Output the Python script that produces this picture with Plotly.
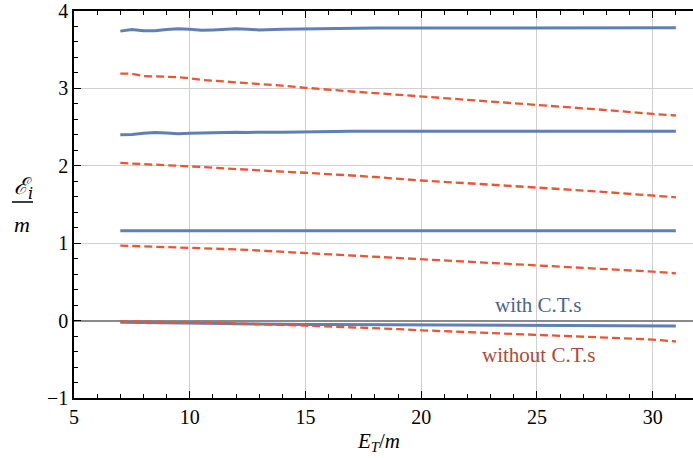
import plotly.graph_objects as go

x = [7, 7.5, 8, 8.5, 9, 9.5, 10, 10.5, 11, 11.5, 12, 12.5, 13, 14, 15, 16, 17, 18, 19, 20, 22, 24, 26, 28, 30, 31]

with_ct = [
    [3.74, 3.76, 3.745, 3.745, 3.76, 3.77, 3.765, 3.75, 3.755, 3.76, 3.77, 3.765, 3.755, 3.765, 3.77, 3.775, 3.775, 3.78, 3.78, 3.78, 3.78, 3.782, 3.782, 3.782, 3.783, 3.783],
    [2.40, 2.405, 2.42, 2.43, 2.425, 2.415, 2.42, 2.425, 2.43, 2.43, 2.435, 2.43, 2.435, 2.435, 2.44, 2.44, 2.445, 2.445, 2.445, 2.445, 2.445, 2.445, 2.447, 2.447, 2.447, 2.447],
    [1.16, 1.16, 1.157, 1.155, 1.155, 1.158, 1.16, 1.16, 1.16, 1.16, 1.16, 1.16, 1.16, 1.16, 1.16, 1.162, 1.162, 1.162, 1.162, 1.163, 1.163, 1.162, 1.162, 1.162, 1.162, 1.162],
    [-0.021, -0.022, -0.023, -0.024, -0.024, -0.025, -0.026, -0.03, -0.034, -0.037, -0.04, -0.043, -0.045, -0.048, -0.05, -0.052, -0.053, -0.054, -0.055, -0.055, -0.057, -0.06, -0.062, -0.065, -0.067, -0.069],
]

without_ct = [
    [3.19, 3.19, 3.16, 3.155, 3.15, 3.145, 3.13, 3.11, 3.10, 3.09, 3.08, 3.068, 3.055, 3.035, 3.008, 2.98, 2.96, 2.94, 2.918, 2.90, 2.855, 2.81, 2.77, 2.72, 2.67, 2.65],
    [2.037, 2.03, 2.025, 2.02, 2.01, 2.0, 1.99, 1.985, 1.975, 1.965, 1.955, 1.948, 1.94, 1.925, 1.91, 1.895, 1.875, 1.855, 1.83, 1.81, 1.775, 1.74, 1.70, 1.66, 1.615, 1.593],
    [0.969, 0.965, 0.96, 0.955, 0.95, 0.945, 0.939, 0.935, 0.93, 0.925, 0.92, 0.913, 0.905, 0.89, 0.874, 0.86, 0.845, 0.83, 0.812, 0.797, 0.762, 0.728, 0.695, 0.665, 0.633, 0.611],
    [-0.009, -0.01, -0.012, -0.014, -0.016, -0.018, -0.021, -0.025, -0.028, -0.031, -0.035, -0.04, -0.045, -0.055, -0.065, -0.075, -0.085, -0.097, -0.11, -0.125, -0.147, -0.17, -0.195, -0.22, -0.245, -0.27],
]

label_with = "with C.T.s"
label_without = "without C.T.s"

BLUE = "#5E81B5"
RED = "#EB5532"
SERIF = "Liberation Serif"

fig = go.Figure()
for ys in with_ct:
    fig.add_trace(go.Scatter(x=x, y=ys, mode="lines", line=dict(color=BLUE, width=3), showlegend=False, hoverinfo="skip"))
for ys in without_ct:
    fig.add_trace(go.Scatter(x=x, y=ys, mode="lines", line=dict(color=RED, width=2.3, dash="8px,4px"), showlegend=False, hoverinfo="skip"))

axis_common = dict(
    showline=True, linecolor="black", linewidth=1.5,
    ticks="inside", ticklen=7, tickwidth=1.2, tickcolor="black",
    showgrid=True, gridcolor="#d0d0d0", gridwidth=1, automargin=False,
    ticklabeloverflow="allow",
    tickfont=dict(family=SERIF, size=20, color="black"),
)

fig.update_xaxes(range=[5, 31.74], dtick=5, tick0=5, zeroline=False, mirror="ticks",
                 minor=dict(dtick=1, ticks="inside", ticklen=4, tickcolor="black", showgrid=False),
                 **axis_common)
fig.update_yaxes(range=[-1, 4], dtick=1, tick0=0, zeroline=True, zerolinecolor="#8a8a8a", zerolinewidth=1.5,
                 mirror=False,
                 minor=dict(dtick=0.2, ticks="inside", ticklen=4, tickcolor="black", showgrid=False),
                 **axis_common)

W, H = 693, 458
SL, SR, ST, SB = 74, 693, 11, 398  # plot area on screen
L, T = SL, ST
R = W - SR
B = H - SB

def px(xs):
    return (xs - SL) / (SR - SL)

def py(ys):
    return (SB - ys) / (SB - ST)

def label(xs, ys, text, size, color, family=SERIF):
    fig.add_annotation(x=px(xs), y=py(ys), xref="paper", yref="paper", text=text, showarrow=False,
                       xanchor="center", yanchor="middle",
                       font=dict(family=family, size=size, color=color))

label(538, 305, label_with, 21, "#4A6491")
label(538, 355, label_without, 21, "#B04A35")

# y-axis label as fraction
label(23, 188, "<i>ℰ<sub>i</sub></i>", 23, "black", family="DejaVu Serif")
fig.add_shape(type="line", xref="paper", yref="paper", x0=px(12), x1=px(33), y0=py(202), y1=py(202),
              line=dict(color="black", width=1.5))
label(22, 225, "<i>m</i>", 22, "black")

# x-axis label
label(378, 442, "<i>E<sub>T</sub></i>/<i>m</i>", 21, "black")

fig.update_layout(
    width=W, height=H,
    margin=dict(l=L, r=R, t=T, b=B, pad=0),
    plot_bgcolor="white", paper_bgcolor="white",
)

fig.write_html("out.html", config={"displayModeBar": False},
               post_script="document.body.style.margin='0';document.body.style.overflow='hidden';")
